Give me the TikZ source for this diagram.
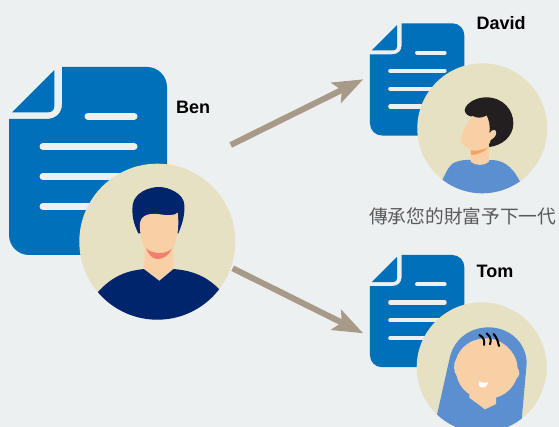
\documentclass[tikz,border=0pt]{standalone}
\usepackage{fontspec}
\setmainfont{Liberation Sans}
\newfontfamily\cjk{Noto Sans CJK TC}
\usetikzlibrary{arrows.meta}
\definecolor{bgc}{HTML}{ECF0F1}
\definecolor{docblue}{HTML}{0070BA}
\definecolor{disc}{HTML}{E7E1C3}
\definecolor{navy}{HTML}{00256C}
\definecolor{skin}{HTML}{F9D0A6}
\definecolor{smilec}{HTML}{F27E6B}
\definecolor{shirt}{HTML}{5B8FCF}
\definecolor{hairk}{HTML}{231F20}
\definecolor{neckshadow}{HTML}{F4A45E}
\definecolor{arrowc}{HTML}{A89A88}
\tikzset{
  avatar/.style={circle,fill=disc,draw=none,inner sep=0pt},
  namelabel/.style={anchor=base west,inner sep=0pt,font=\fontsize{18}{20}\selectfont\bfseries,text=black},
  flow/.style={draw=arrowc,line width=6pt,-{Stealth[length=30pt,width=22pt,inset=6pt,fill=arrowc]}},
}
\newcommand{\docicon}[3]{%
  \begin{scope}[shift={(#1,#2)},scale=#3]
    \fill[docblue] (62,67) -- (147,67) .. controls (158,67) and (167,76) .. (167,87)
      -- (167,235) .. controls (167,246) and (158,255) .. (147,255)
      -- (29,255) .. controls (18,255) and (9,246) .. (9,235)
      -- (9,119) -- (46,119) .. controls (56,119) and (62,113) .. (62,104) -- cycle;
    \fill[docblue] (12,112.3) -- (54.3,70) -- (54.3,106) .. controls (54.3,110) and (52,112.3) .. (48,112.3) -- cycle;
    \begin{scope}[draw=bgc,line width=#3*7pt,line cap=round]
      \draw (88,116.2) -- (134,116.2);
      \draw (43,146.5) -- (134,146.5);
      \draw (43,176.5) -- (134,176.5);
      \draw (43,206.5) -- (134,206.5);
    \end{scope}
  \end{scope}}
\begin{document}
\begin{tikzpicture}[x=1pt,y=-1pt]
\useasboundingbox (0,0) rectangle (559,427);
\fill[bgc] (0,0) rectangle (559,427);
\docicon{0}{0}{1}
\docicon{364.6}{-16.7}{.597}
\docicon{364.6}{215}{.597}

\begin{scope}
\clip (0,0) rectangle (559,427);
\node[avatar,minimum size=156pt] (benav) at (157.3,241.7) {};
\node[avatar,minimum size=130pt] (davidav) at (482.3,128.3) {};
\node[avatar,minimum size=130pt] (tomav) at (481.7,367.3) {};

% Ben
\begin{scope}
\clip (157.3,241.7) circle (78pt);
\begin{scope}[shift={(0,50)},x=.33333pt,y=-.33333pt]
  \fill[navy] (295,725) .. controls (340,675) and (385,662) .. (432,657)
    -- (520,657) .. controls (580,662) and (620,680) .. (657,717) -- (700,900) -- (250,900) -- cycle;
  \fill[navy] (415,550) .. controls (400,520) and (395,495) .. (398,465)
    .. controls (402,430) and (445,410) .. (480,411)
    .. controls (505,412) and (552,430) .. (553,465)
    .. controls (555,500) and (545,525) .. (535,550) -- cycle;
  \fill[skin] (435,590) -- (432,657) -- (478,692) -- (520,657) -- (520,590) -- cycle;
  \fill[skin] (420,520) .. controls (422,495) and (450,488) .. (480,493)
    .. controls (500,497) and (525,497) .. (533,488)
    .. controls (537,520) and (535,550) .. (525,580)
    .. controls (510,610) and (495,615) .. (478,615)
    .. controls (460,615) and (440,605) .. (430,585)
    .. controls (422,565) and (419,545) .. (420,520) -- cycle;
  \fill[smilec] (438,595) .. controls (455,612) and (495,615) .. (515,597)
    .. controls (505,620) and (485,628) .. (470,627)
    .. controls (455,625) and (445,612) .. (438,595) -- cycle;
\end{scope}
\end{scope}

% David
\begin{scope}
\clip (482.3,128.3) circle (65pt);
\begin{scope}[shift={(360,0)},x=.33333pt,y=-.33333pt]
  \fill[shirt] (248,538) .. controls (262,510) and (268,492) .. (290,485)
    .. controls (305,480) and (320,479) .. (332,480) -- (387,480)
    .. controls (425,478) and (455,495) .. (480,545) -- (480,620) -- (248,620) -- cycle;
  \fill[hairk] (314,330) .. controls (318,308) and (350,292) .. (378,292)
    .. controls (430,292) and (460,330) .. (460,370)
    .. controls (460,410) and (425,437) .. (388,441) -- (340,350) .. controls (325,350) and (315,342) .. (314,330) -- cycle;
  \fill[skin] (332,445) -- (332,485) .. controls (345,498) and (375,498) .. (387,485) -- (387,435) -- cycle;
  \fill[skin] (338,348) .. controls (318,370) and (300,410) .. (304,425)
    .. controls (310,445) and (340,452) .. (365,448)
    .. controls (385,442) and (390,430) .. (392,420)
    .. controls (408,412) and (413,397) .. (405,390)
    .. controls (398,387) and (392,394) .. (388,400)
    .. controls (392,380) and (386,358) .. (380,347)
    .. controls (365,355) and (350,355) .. (338,348) -- cycle;
  \fill[neckshadow] (332,451) .. controls (350,454) and (370,450) .. (386,442)
    .. controls (375,455) and (350,465) .. (334,465) -- cycle;
\end{scope}
\end{scope}

% Tom
\begin{scope}
\clip (481.7,367.3) circle (65pt);
\begin{scope}[shift={(360,250)},x=.33333pt,y=-.33333pt]
  \fill[shirt] (232,490) -- (270,320) .. controls (285,262) and (335,232) .. (385,232)
    .. controls (450,232) and (500,280) .. (500,340) -- (485,510) -- (480,600) -- (200,600) -- cycle;
  \fill[skin] (328,432) -- (328,443) -- (375,478) -- (408,462) -- (408,440) -- cycle;
  \fill[skin] (378,265) .. controls (430,265) and (472,310) .. (473,355)
    .. controls (482,365) and (478,380) .. (470,385)
    .. controls (455,425) and (420,447) .. (378,447)
    .. controls (335,447) and (300,420) .. (290,378)
    .. controls (280,365) and (280,340) .. (288,328)
    .. controls (300,290) and (335,265) .. (378,265) -- cycle;
  \fill[white] (356,394) .. controls (365,399) and (375,399) .. (385,397)
    .. controls (382,412) and (365,418) .. (358,408) -- cycle;
  \begin{scope}[draw=black,line width=2pt,line cap=round]
    \draw (358,255) .. controls (372,262) and (374,272) .. (372,285);
    \draw (380,250) .. controls (393,260) and (394,272) .. (390,283);
    \draw (401,252) .. controls (412,265) and (414,276) .. (417,288);
  \end{scope}
\end{scope}
\end{scope}
\end{scope}

\coordinate (upstart) at (230.7,145);
\coordinate (upend) at (363.3,79.3);
\coordinate (downstart) at (232.7,268.3);
\coordinate (downend) at (363.3,333.3);
\draw[flow] (upstart) -- (upend);
\draw[flow] (downstart) -- (downend);

\node[namelabel] (benname) at (176,113.2) {Ben};
\node[namelabel] (davidname) at (476.5,29.5) {David};
\node[namelabel] (tomname) at (476.5,277.2) {Tom};
\node[anchor=west,inner sep=0pt,text=black!65,font=\fontsize{18.7}{22}\selectfont\cjk] (caption) at (369,216) {傳承您的財富予下一代};
\end{tikzpicture}
\end{document}
